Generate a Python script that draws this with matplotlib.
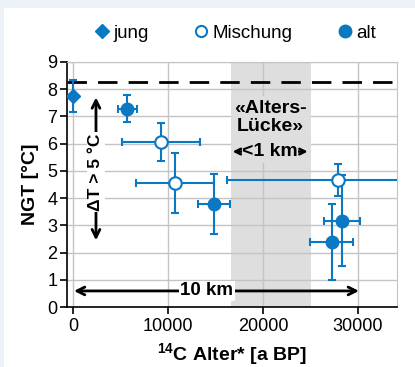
import matplotlib
matplotlib.use('Agg')
import matplotlib.pyplot as plt
from matplotlib.lines import Line2D
from matplotlib.patches import Rectangle

plt.rcParams['font.family'] = ['Liberation Sans', 'DejaVu Sans']
plt.rcParams['mathtext.fontset'] = 'custom'
plt.rcParams['mathtext.rm'] = 'Liberation Sans'
plt.rcParams['mathtext.bf'] = 'Liberation Sans:bold'
plt.rcParams['mathtext.default'] = 'bf'

BLUE = '#0a78c2'
GAP_GREY = '#dedede'

# jung
jung_x = [0]
jung_y = [7.75]
jung_xerr = [0]
jung_yerr = [0.6]

# Mischung
misch_x = [9250, 10750, 27900]
misch_y = [6.05, 4.57, 4.67]
misch_xerr = [4100, 4100, 11700]
misch_yerr = [0.7, 1.1, 0.6]

# alt
alt_x = [5700, 14850, 28300, 27250]
alt_y = [7.28, 3.78, 3.17, 2.38]
alt_xerr = [1000, 1700, 1900, 2270]
alt_yerr = [0.5, 1.1, 1.67, 1.4]

gap_start, gap_end = 16600, 25000
ref_temp = 8.27

xticks = [0, 10000, 20000, 30000]
yticks = list(range(0, 10))

fig = plt.figure(figsize=(4.15, 3.67), dpi=100)
fig.patch.set_facecolor('#edf1f8')
fig.patches.append(Rectangle((4 / 415, 0), 1, 1 - 8 / 367, transform=fig.transFigure,
                             facecolor='white', edgecolor='none', zorder=-10))
ax = fig.add_axes([67 / 415, 1 - 307 / 367, 330 / 415, 245 / 367])

ax.set_xlim(-630, 34100)
ax.set_ylim(0, 9)
ax.set_xticks(xticks)
ax.set_yticks(yticks)
ax.grid(True, color='#c4c4c4', lw=1, zorder=0.5)
ax.set_axisbelow(True)

ax.axvspan(gap_start, gap_end, color=GAP_GREY, zorder=0.2, lw=0)
# grey box behind the gap label hides the grid
ax.add_patch(Rectangle((gap_start, 5.3), gap_end - gap_start, 2.45,
                       facecolor=GAP_GREY, edgecolor='none', zorder=1))

ax.axhline(ref_temp, color='black', lw=2, dashes=(7, 4), zorder=2)

eb_kw = dict(ls='none', ecolor=BLUE, elinewidth=1.5, capsize=3, capthick=1.5, zorder=3)
ax.errorbar(jung_x, jung_y, yerr=jung_yerr, xerr=jung_xerr, marker='D', ms=7,
            mfc=BLUE, mec=BLUE, **eb_kw)
ax.errorbar(misch_x, misch_y, yerr=misch_yerr, xerr=misch_xerr, marker='o', ms=9,
            mfc='white', mec=BLUE, mew=1.5, **eb_kw)
ax.errorbar(alt_x, alt_y, yerr=alt_yerr, xerr=alt_xerr, marker='o', ms=9,
            mfc=BLUE, mec=BLUE, **eb_kw)

# annotations
arr = dict(arrowstyle='<->', lw=2, color='black', mutation_scale=14, shrinkA=0, shrinkB=0)
ax.annotate('', xy=(2420, 7.7), xytext=(2420, 2.45), arrowprops=arr, zorder=4)
ax.text(2420, 4.95, 'ΔT > 5 °C', rotation=90, ha='center', va='center', fontsize=12.5,
        fontweight='bold', bbox=dict(facecolor='white', edgecolor='none', pad=1), zorder=5)
ax.annotate('', xy=(100, 0.59), xytext=(30100, 0.59), arrowprops=arr, zorder=4)
ax.text(14100, 0.59, '10 km', ha='center', va='center', fontsize=13.5, fontweight='bold',
        bbox=dict(facecolor='white', edgecolor='none', pad=1), zorder=5)

ax.text(20750, 6.95, '«Alters-\nLücke»', ha='center', va='center', fontsize=14,
        fontweight='bold', linespacing=1.1, zorder=5)
arr_small = dict(arrowstyle='<->', lw=1.8, color='black', mutation_scale=10, shrinkA=0, shrinkB=0)
ax.annotate('', xy=(16800, 5.71), xytext=(24700, 5.71), arrowprops=arr_small, zorder=4)
ax.text(20750, 5.71, '<1 km', ha='center', va='center', fontsize=14, fontweight='bold',
        bbox=dict(facecolor=GAP_GREY, edgecolor='none', pad=0.3), zorder=5)

for s in ['top', 'right']:
    ax.spines[s].set_color('#c4c4c4')
for s in ['left', 'bottom']:
    ax.spines[s].set_color('black')
    ax.spines[s].set_linewidth(1.2)
ax.tick_params(axis='both', direction='out', length=5, width=1.2, labelsize=13, pad=2)
ax.tick_params(axis='x', pad=3)

ax.set_ylabel('NGT [°C]', fontsize=14, fontweight='bold', labelpad=6)
ax.set_xlabel('$^{14}$C Alter* [a BP]', fontsize=14, fontweight='bold', labelpad=4)

handles = [
    Line2D([], [], ls='none', marker='D', ms=7, mfc=BLUE, mec=BLUE),
    Line2D([], [], ls='none', marker='o', ms=8, mfc='white', mec=BLUE, mew=1.5),
    Line2D([], [], ls='none', marker='o', ms=9, mfc=BLUE, mec=BLUE),
]
fig.legend(handles, ['jung', 'Mischung', 'alt'], loc='center',
           bbox_to_anchor=(235 / 415, 1 - 33 / 367), ncol=3, frameon=False,
           fontsize=13.5, handlelength=0.8, handletextpad=0.2, columnspacing=2.4)

fig.savefig('out.png', dpi=100)
